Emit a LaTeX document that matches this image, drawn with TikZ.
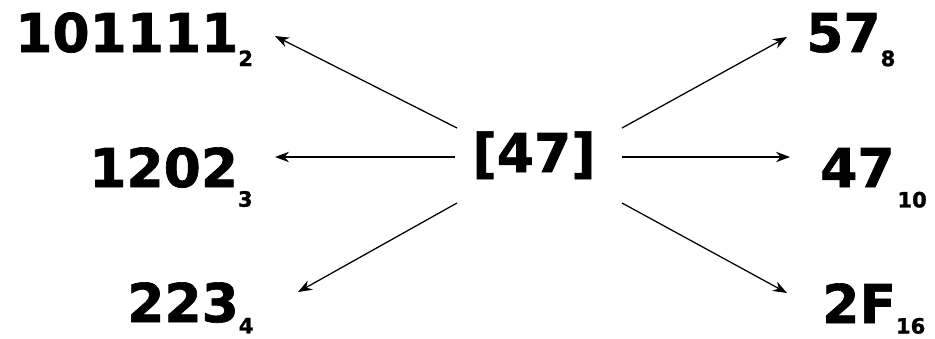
\documentclass[tikz,border=0pt]{standalone}
\usepackage{fontspec}
\setmainfont{DejaVu Sans}[BoldFeatures={FakeBold=1.2}]
\usetikzlibrary{arrows.meta,calc}
\newcommand{\radix}[2][10pt]{\raisebox{-#1}{\fontsize{15}{15}\selectfont #2}}
\tikzset{
  num/.style={font=\bfseries\fontsize{38}{38}\selectfont,inner sep=0pt},
  ar/.style={-{Stealth[length=3.5mm,width=2.6mm]},line width=0.9pt},
}
\begin{document}
\begin{tikzpicture}[x=0.025cm,y=-0.025cm]
  \useasboundingbox (0,0) rectangle (935,338);
  % centre value
  \node[num,anchor=base] (c) at (534,172) {[47]};
  % left column
  \node[num,anchor=base west] (bin) at (15,52) {101111\radix{2}};
  \node[num,anchor=base west] (ter) at (89,187) {1202\radix[14pt]{3}};
  \node[num,anchor=base west] (quat) at (127,322) {223\radix[8pt]{4}};
  % right column
  \node[num,anchor=base west] (oct) at (806,52) {57\radix{8}};
  \node[num,anchor=base west] (deci) at (820,187) {47\hspace{2pt}\radix[14.5pt]{10}};
  \node[num,anchor=base west] (hex) at (822,323) {2F\radix[7.5pt]{16}};
  % arrow tips
  \coordinate (tbin) at (275,36);
  \coordinate (tter) at (275,157);
  \coordinate (tquat) at (298,292);
  \coordinate (toct) at (787,37);
  \coordinate (tdeci) at (790,157);
  \coordinate (thex) at (787,293);
  \draw[ar] ($(c.base)+(-77,-44)$) -- (tbin);
  \draw[ar] ($(c.base)+(-79,-15)$) -- (tter);
  \draw[ar] ($(c.base)+(-77,31)$) -- (tquat);
  \draw[ar] ($(c.base)+(88,-44)$) -- (toct);
  \draw[ar] ($(c.base)+(88,-15)$) -- (tdeci);
  \draw[ar] ($(c.base)+(88,31)$) -- (thex);
\end{tikzpicture}
\end{document}
